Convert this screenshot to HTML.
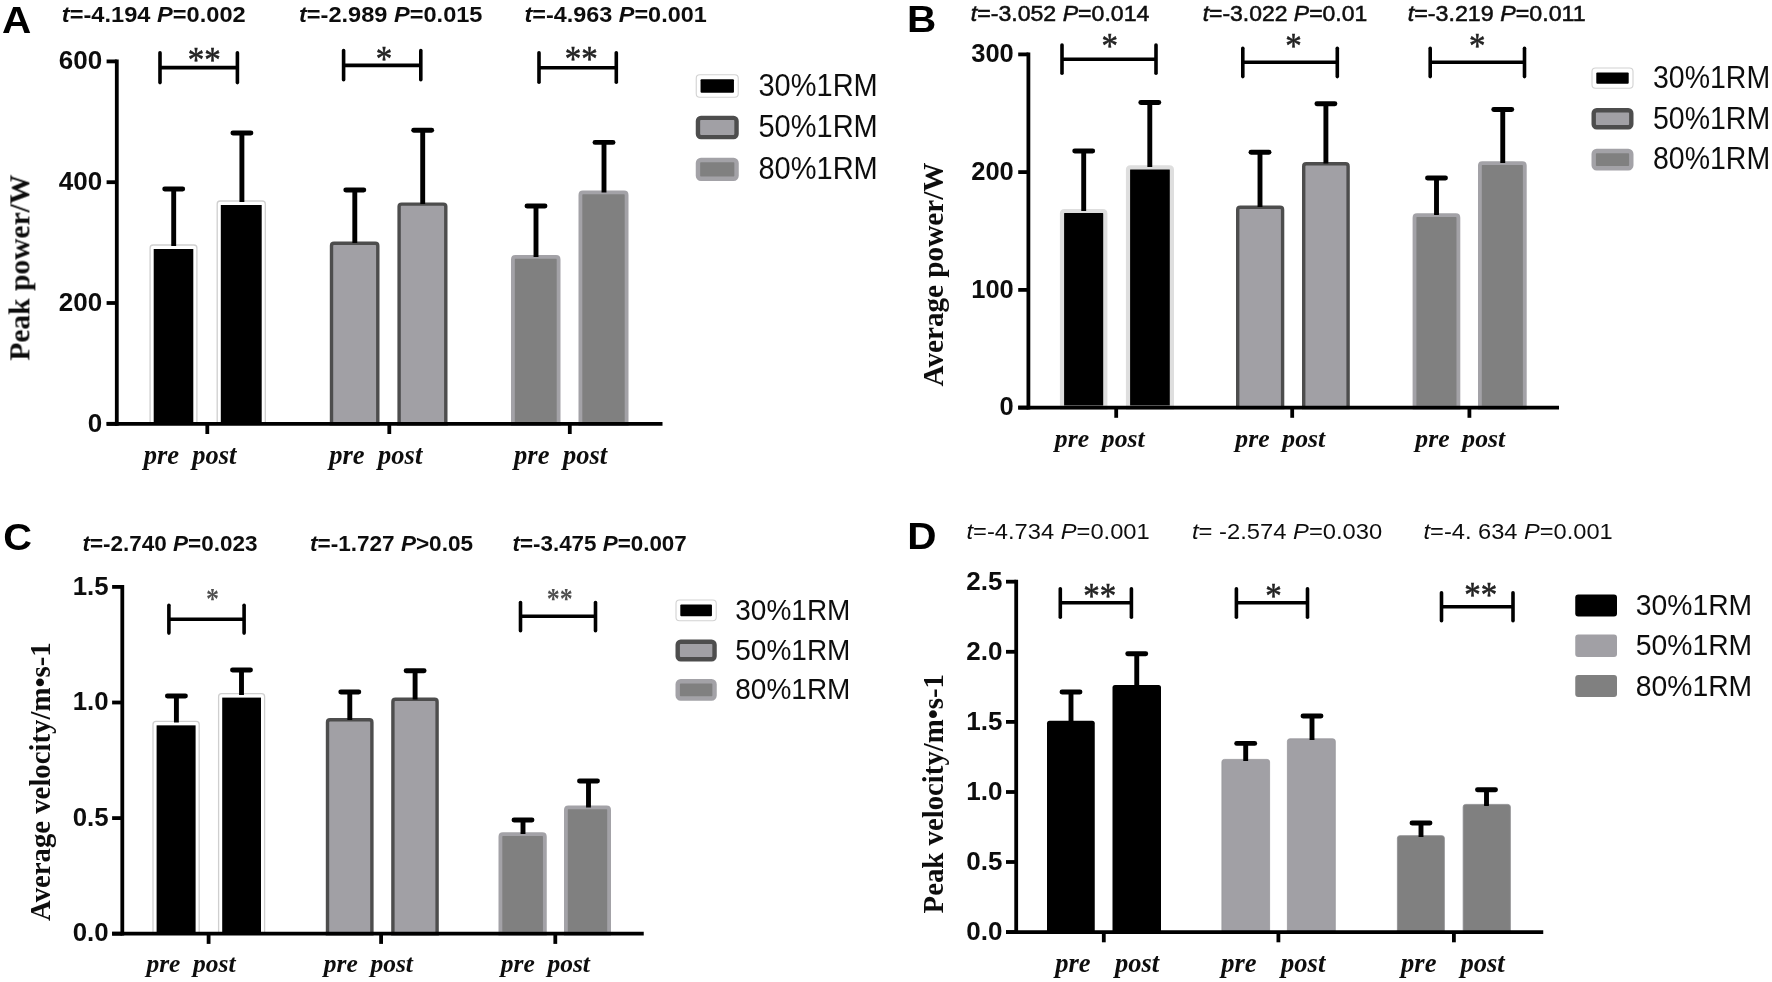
<!DOCTYPE html>
<html lang="en"><head><meta charset="utf-8"><title>Power and velocity pre/post at 30%, 50% and 80% 1RM</title>
<style>html,body{margin:0;padding:0;background:#fff;}body{width:1772px;height:982px;overflow:hidden;}svg{display:block;}</style>
</head><body>
<svg width="1772" height="982" viewBox="0 0 1772 982" role="img" aria-label="Bar charts of peak power, average power, average velocity and peak velocity before and after training">
<defs><filter id="soft" filterUnits="userSpaceOnUse" x="0" y="0" width="1772" height="982"><feGaussianBlur stdDeviation="0.65"/></filter></defs>
<rect x="0" y="0" width="1772" height="982" fill="#fff"/>
<g filter="url(#soft)">
<g id="panelA">
<text x="1.99" y="32.6" font-family='"Liberation Sans", sans-serif' font-size="37.2" font-weight="bold" font-style="normal" text-anchor="start" fill="#000" textLength="29.28" lengthAdjust="spacingAndGlyphs" >A</text>
<text x="61.8" y="22" font-family='"Liberation Sans", sans-serif' font-size="22.5" font-weight="bold" font-style="normal" text-anchor="start" fill="#111" textLength="183.9" lengthAdjust="spacingAndGlyphs" ><tspan font-style="italic">t</tspan>=-4.194 <tspan font-style="italic">P</tspan>=0.002</text>
<text x="299" y="22" font-family='"Liberation Sans", sans-serif' font-size="22.5" font-weight="bold" font-style="normal" text-anchor="start" fill="#111" textLength="183.5" lengthAdjust="spacingAndGlyphs" ><tspan font-style="italic">t</tspan>=-2.989 <tspan font-style="italic">P</tspan>=0.015</text>
<text x="524.5" y="22" font-family='"Liberation Sans", sans-serif' font-size="22.5" font-weight="bold" font-style="normal" text-anchor="start" fill="#111" textLength="182.2" lengthAdjust="spacingAndGlyphs" ><tspan font-style="italic">t</tspan>=-4.963 <tspan font-style="italic">P</tspan>=0.001</text>
<g transform="translate(29.4 360.6) rotate(-90)">
<text x="0" y="0" font-family='"Liberation Serif", serif' font-size="29.3" font-weight="bold" font-style="normal" text-anchor="start" fill="#111" textLength="186" lengthAdjust="spacingAndGlyphs" >Peak power/W</text>
</g>
<path d="M150.1 423.8 L150.1 248 Q150.1 245 153.1 245 L193.9 245 Q196.9 245 196.9 248 L196.9 423.8Z" fill="#fff" stroke="#cfcfcf" stroke-width="1.3"/>
<rect x="153.7" y="249" width="39.6" height="174.8" fill="#000"/>
<path d="M217.2 423.8 L217.2 204 Q217.2 201 220.2 201 L262.3 201 Q265.3 201 265.3 204 L265.3 423.8Z" fill="#fff" stroke="#cfcfcf" stroke-width="1.3"/>
<rect x="220.8" y="205" width="40.9" height="218.8" fill="#000"/>
<path d="M331.5 423.8 L331.5 245.7 Q331.5 243.2 334 243.2 L375.3 243.2 Q377.8 243.2 377.8 245.7 L377.8 423.8Z" fill="#a1a0a5" stroke="#4d4d4d" stroke-width="3.4"/>
<path d="M399.1 423.8 L399.1 206.6 Q399.1 204.1 401.6 204.1 L443.3 204.1 Q445.8 204.1 445.8 206.6 L445.8 423.8Z" fill="#a1a0a5" stroke="#4d4d4d" stroke-width="3.4"/>
<path d="M512.9 423.8 L512.9 259.4 Q512.9 256.9 515.4 256.9 L556.1 256.9 Q558.6 256.9 558.6 259.4 L558.6 423.8Z" fill="#808080" stroke="#a3a2a7" stroke-width="3.8"/>
<path d="M580.4 423.8 L580.4 194.9 Q580.4 192.4 582.9 192.4 L624.1 192.4 Q626.6 192.4 626.6 194.9 L626.6 423.8Z" fill="#808080" stroke="#a3a2a7" stroke-width="3.8"/>
<line x1="173.7" y1="189" x2="173.7" y2="246" stroke="#000" stroke-width="4.9" stroke-linecap="butt"/>
<line x1="164.7" y1="189" x2="182.7" y2="189" stroke="#000" stroke-width="4.9" stroke-linecap="round"/>
<line x1="241.9" y1="133" x2="241.9" y2="202" stroke="#000" stroke-width="4.9" stroke-linecap="butt"/>
<line x1="232.9" y1="133" x2="250.9" y2="133" stroke="#000" stroke-width="4.9" stroke-linecap="round"/>
<line x1="354.8" y1="190" x2="354.8" y2="243" stroke="#000" stroke-width="4.9" stroke-linecap="butt"/>
<line x1="345.8" y1="190" x2="363.8" y2="190" stroke="#000" stroke-width="4.9" stroke-linecap="round"/>
<line x1="422.7" y1="130.2" x2="422.7" y2="204" stroke="#000" stroke-width="4.9" stroke-linecap="butt"/>
<line x1="413.7" y1="130.2" x2="431.7" y2="130.2" stroke="#000" stroke-width="4.9" stroke-linecap="round"/>
<line x1="536" y1="206" x2="536" y2="257" stroke="#000" stroke-width="4.9" stroke-linecap="butt"/>
<line x1="527" y1="206" x2="545" y2="206" stroke="#000" stroke-width="4.9" stroke-linecap="round"/>
<line x1="604" y1="142.4" x2="604" y2="192.5" stroke="#000" stroke-width="4.9" stroke-linecap="butt"/>
<line x1="595" y1="142.4" x2="613" y2="142.4" stroke="#000" stroke-width="4.9" stroke-linecap="round"/>
<line x1="116.8" y1="59.5" x2="116.8" y2="425.7" stroke="#000" stroke-width="3.8" stroke-linecap="butt"/>
<line x1="106.6" y1="423.8" x2="662.5" y2="423.8" stroke="#000" stroke-width="3.8" stroke-linecap="butt"/>
<line x1="106.6" y1="61.4" x2="116.8" y2="61.4" stroke="#000" stroke-width="3.8" stroke-linecap="butt"/>
<text x="102.2" y="69.24" font-family='"Liberation Sans", sans-serif' font-size="26" font-weight="bold" font-style="normal" text-anchor="end" fill="#111" >600</text>
<line x1="106.6" y1="182.2" x2="116.8" y2="182.2" stroke="#000" stroke-width="3.8" stroke-linecap="butt"/>
<text x="102.2" y="190.04" font-family='"Liberation Sans", sans-serif' font-size="26" font-weight="bold" font-style="normal" text-anchor="end" fill="#111" >400</text>
<line x1="106.6" y1="303" x2="116.8" y2="303" stroke="#000" stroke-width="3.8" stroke-linecap="butt"/>
<text x="102.2" y="310.84" font-family='"Liberation Sans", sans-serif' font-size="26" font-weight="bold" font-style="normal" text-anchor="end" fill="#111" >200</text>
<line x1="106.6" y1="423.8" x2="116.8" y2="423.8" stroke="#000" stroke-width="3.8" stroke-linecap="butt"/>
<text x="102.2" y="431.64" font-family='"Liberation Sans", sans-serif' font-size="26" font-weight="bold" font-style="normal" text-anchor="end" fill="#111" >0</text>
<line x1="207.3" y1="423.8" x2="207.3" y2="434" stroke="#000" stroke-width="3.8" stroke-linecap="butt"/>
<line x1="389.3" y1="423.8" x2="389.3" y2="434" stroke="#000" stroke-width="3.8" stroke-linecap="butt"/>
<line x1="569.8" y1="423.8" x2="569.8" y2="434" stroke="#000" stroke-width="3.8" stroke-linecap="butt"/>
<line x1="160" y1="67.6" x2="237.4" y2="67.6" stroke="#000" stroke-width="3.6" stroke-linecap="butt"/>
<line x1="160" y1="52.8" x2="160" y2="82.6" stroke="#000" stroke-width="3.6" stroke-linecap="round"/>
<line x1="237.4" y1="52.8" x2="237.4" y2="82.6" stroke="#000" stroke-width="3.6" stroke-linecap="round"/>
<g transform="translate(204.2 61.5) scale(1 1.08)">
<text x="0" y="9.5" font-family='"Liberation Serif", serif' font-size="33" font-weight="normal" font-style="normal" text-anchor="middle" fill="#222" stroke="#222" stroke-width="0.5">**</text>
</g>
<line x1="343.6" y1="65.4" x2="420.8" y2="65.4" stroke="#000" stroke-width="3.6" stroke-linecap="butt"/>
<line x1="343.6" y1="50.6" x2="343.6" y2="79.8" stroke="#000" stroke-width="3.6" stroke-linecap="round"/>
<line x1="420.8" y1="50.6" x2="420.8" y2="79.8" stroke="#000" stroke-width="3.6" stroke-linecap="round"/>
<g transform="translate(384 61.2) scale(1 1.08)">
<text x="0" y="9.5" font-family='"Liberation Serif", serif' font-size="33" font-weight="normal" font-style="normal" text-anchor="middle" fill="#222" stroke="#222" stroke-width="0.5">*</text>
</g>
<line x1="539" y1="67.8" x2="616.3" y2="67.8" stroke="#000" stroke-width="3.6" stroke-linecap="butt"/>
<line x1="539" y1="52.8" x2="539" y2="82.2" stroke="#000" stroke-width="3.6" stroke-linecap="round"/>
<line x1="616.3" y1="52.8" x2="616.3" y2="82.2" stroke="#000" stroke-width="3.6" stroke-linecap="round"/>
<g transform="translate(581.2 61.2) scale(1 1.08)">
<text x="0" y="9.5" font-family='"Liberation Serif", serif' font-size="33" font-weight="normal" font-style="normal" text-anchor="middle" fill="#222" stroke="#222" stroke-width="0.5">**</text>
</g>
<text x="143.7" y="464.4" font-family='"Liberation Serif", serif' font-size="26.5" font-weight="bold" font-style="italic" text-anchor="start" fill="#111" >pre</text>
<text x="192.3" y="464.4" font-family='"Liberation Serif", serif' font-size="26.5" font-weight="bold" font-style="italic" text-anchor="start" fill="#111" >post</text>
<text x="329.2" y="464.4" font-family='"Liberation Serif", serif' font-size="26.5" font-weight="bold" font-style="italic" text-anchor="start" fill="#111" >pre</text>
<text x="378.1" y="464.4" font-family='"Liberation Serif", serif' font-size="26.5" font-weight="bold" font-style="italic" text-anchor="start" fill="#111" >post</text>
<text x="514.1" y="464.4" font-family='"Liberation Serif", serif' font-size="26.5" font-weight="bold" font-style="italic" text-anchor="start" fill="#111" >pre</text>
<text x="562.9" y="464.4" font-family='"Liberation Serif", serif' font-size="26.5" font-weight="bold" font-style="italic" text-anchor="start" fill="#111" >post</text>
<rect x="696.25" y="74.7" width="42" height="22.5" fill="#fff" stroke="#d2d2d2" stroke-width="1.1" rx="3.5" ry="3.5"/>
<rect x="700.55" y="79.2" width="33.4" height="13.5" fill="#000" rx="1" ry="1"/>
<g transform="translate(758.5 95.92) scale(1 1.07)">
<text x="0" y="0" font-family='"Liberation Sans", sans-serif' font-size="29" font-weight="normal" font-style="normal" text-anchor="start" fill="#111" >30%1RM</text>
</g>
<rect x="697.95" y="117.9" width="38.6" height="19.2" fill="#a1a0a5" stroke="#4d4d4d" stroke-width="4.4" rx="3" ry="3"/>
<g transform="translate(758.5 137.47) scale(1 1.07)">
<text x="0" y="0" font-family='"Liberation Sans", sans-serif' font-size="29" font-weight="normal" font-style="normal" text-anchor="start" fill="#111" >50%1RM</text>
</g>
<rect x="697.95" y="160" width="38.6" height="18.8" fill="#808080" stroke="#a3a2a7" stroke-width="4.4" rx="3" ry="3"/>
<g transform="translate(758.5 179.37) scale(1 1.07)">
<text x="0" y="0" font-family='"Liberation Sans", sans-serif' font-size="29" font-weight="normal" font-style="normal" text-anchor="start" fill="#111" >80%1RM</text>
</g>
</g>
<g id="panelB">
<text x="907.08" y="32.2" font-family='"Liberation Sans", sans-serif' font-size="37.2" font-weight="bold" font-style="normal" text-anchor="start" fill="#000" textLength="29.28" lengthAdjust="spacingAndGlyphs" >B</text>
<text x="970.8" y="20.6" font-family='"Liberation Sans", sans-serif' font-size="22.5" font-weight="normal" font-style="normal" text-anchor="start" fill="#111" textLength="178.6" lengthAdjust="spacingAndGlyphs" stroke="#111" stroke-width="0.55"><tspan font-style="italic">t</tspan>=-3.052 <tspan font-style="italic">P</tspan>=0.014</text>
<text x="1202.7" y="20.6" font-family='"Liberation Sans", sans-serif' font-size="22.5" font-weight="normal" font-style="normal" text-anchor="start" fill="#111" textLength="164.5" lengthAdjust="spacingAndGlyphs" stroke="#111" stroke-width="0.55"><tspan font-style="italic">t</tspan>=-3.022 <tspan font-style="italic">P</tspan>=0.01</text>
<text x="1407.8" y="20.6" font-family='"Liberation Sans", sans-serif' font-size="22.5" font-weight="normal" font-style="normal" text-anchor="start" fill="#111" textLength="177.9" lengthAdjust="spacingAndGlyphs" stroke="#111" stroke-width="0.55"><tspan font-style="italic">t</tspan>=-3.219 <tspan font-style="italic">P</tspan>=0.011</text>
<g transform="translate(943 386.5) rotate(-90)">
<text x="0" y="0" font-family='"Liberation Serif", serif' font-size="29.3" font-weight="bold" font-style="normal" text-anchor="start" fill="#111" textLength="224" lengthAdjust="spacingAndGlyphs" >Average power/W</text>
</g>
<path d="M1062 407.6 L1062 213.5 Q1062 211 1064.5 211 L1102.8 211 Q1105.3 211 1105.3 213.5 L1105.3 407.6Z" fill="#000" stroke="#dedede" stroke-width="4.2"/>
<path d="M1128 407.6 L1128 169.8 Q1128 167.3 1130.5 167.3 L1169.4 167.3 Q1171.9 167.3 1171.9 169.8 L1171.9 407.6Z" fill="#000" stroke="#dedede" stroke-width="4.2"/>
<path d="M1237.7 407.6 L1237.7 209.7 Q1237.7 207.2 1240.2 207.2 L1280.1 207.2 Q1282.6 207.2 1282.6 209.7 L1282.6 407.6Z" fill="#a1a0a5" stroke="#4d4d4d" stroke-width="3.4"/>
<path d="M1303.7 407.6 L1303.7 166.2 Q1303.7 163.7 1306.2 163.7 L1345.6 163.7 Q1348.1 163.7 1348.1 166.2 L1348.1 407.6Z" fill="#a1a0a5" stroke="#4d4d4d" stroke-width="3.4"/>
<path d="M1414.5 407.6 L1414.5 217.7 Q1414.5 215.2 1417 215.2 L1455.9 215.2 Q1458.4 215.2 1458.4 217.7 L1458.4 407.6Z" fill="#808080" stroke="#a3a2a7" stroke-width="3.8"/>
<path d="M1479.9 407.6 L1479.9 165.6 Q1479.9 163.1 1482.4 163.1 L1522.3 163.1 Q1524.8 163.1 1524.8 165.6 L1524.8 407.6Z" fill="#808080" stroke="#a3a2a7" stroke-width="3.8"/>
<line x1="1083.7" y1="151" x2="1083.7" y2="211" stroke="#000" stroke-width="4.9" stroke-linecap="butt"/>
<line x1="1074.7" y1="151" x2="1092.7" y2="151" stroke="#000" stroke-width="4.9" stroke-linecap="round"/>
<line x1="1149.8" y1="102.5" x2="1149.8" y2="167" stroke="#000" stroke-width="4.9" stroke-linecap="butt"/>
<line x1="1140.8" y1="102.5" x2="1158.8" y2="102.5" stroke="#000" stroke-width="4.9" stroke-linecap="round"/>
<line x1="1260" y1="152.2" x2="1260" y2="207" stroke="#000" stroke-width="4.9" stroke-linecap="butt"/>
<line x1="1251" y1="152.2" x2="1269" y2="152.2" stroke="#000" stroke-width="4.9" stroke-linecap="round"/>
<line x1="1325.9" y1="103.8" x2="1325.9" y2="163.5" stroke="#000" stroke-width="4.9" stroke-linecap="butt"/>
<line x1="1316.9" y1="103.8" x2="1334.9" y2="103.8" stroke="#000" stroke-width="4.9" stroke-linecap="round"/>
<line x1="1436.5" y1="178" x2="1436.5" y2="215" stroke="#000" stroke-width="4.9" stroke-linecap="butt"/>
<line x1="1427.5" y1="178" x2="1445.5" y2="178" stroke="#000" stroke-width="4.9" stroke-linecap="round"/>
<line x1="1502.75" y1="109.5" x2="1502.75" y2="163" stroke="#000" stroke-width="4.9" stroke-linecap="butt"/>
<line x1="1493.75" y1="109.5" x2="1511.75" y2="109.5" stroke="#000" stroke-width="4.9" stroke-linecap="round"/>
<line x1="1028.4" y1="52.5" x2="1028.4" y2="409.5" stroke="#000" stroke-width="3.8" stroke-linecap="butt"/>
<line x1="1018.2" y1="407.6" x2="1559" y2="407.6" stroke="#000" stroke-width="3.8" stroke-linecap="butt"/>
<line x1="1018.2" y1="54.4" x2="1028.4" y2="54.4" stroke="#000" stroke-width="3.8" stroke-linecap="butt"/>
<text x="1013.8" y="62.07" font-family='"Liberation Sans", sans-serif' font-size="25.5" font-weight="bold" font-style="normal" text-anchor="end" fill="#111" >300</text>
<line x1="1018.2" y1="172.1" x2="1028.4" y2="172.1" stroke="#000" stroke-width="3.8" stroke-linecap="butt"/>
<text x="1013.8" y="179.77" font-family='"Liberation Sans", sans-serif' font-size="25.5" font-weight="bold" font-style="normal" text-anchor="end" fill="#111" >200</text>
<line x1="1018.2" y1="289.9" x2="1028.4" y2="289.9" stroke="#000" stroke-width="3.8" stroke-linecap="butt"/>
<text x="1013.8" y="297.57" font-family='"Liberation Sans", sans-serif' font-size="25.5" font-weight="bold" font-style="normal" text-anchor="end" fill="#111" >100</text>
<line x1="1018.2" y1="407.6" x2="1028.4" y2="407.6" stroke="#000" stroke-width="3.8" stroke-linecap="butt"/>
<text x="1013.8" y="415.27" font-family='"Liberation Sans", sans-serif' font-size="25.5" font-weight="bold" font-style="normal" text-anchor="end" fill="#111" >0</text>
<line x1="1116.2" y1="407.6" x2="1116.2" y2="417.8" stroke="#000" stroke-width="3.8" stroke-linecap="butt"/>
<line x1="1292.2" y1="407.6" x2="1292.2" y2="417.8" stroke="#000" stroke-width="3.8" stroke-linecap="butt"/>
<line x1="1469.4" y1="407.6" x2="1469.4" y2="417.8" stroke="#000" stroke-width="3.8" stroke-linecap="butt"/>
<line x1="1062" y1="59.2" x2="1156" y2="59.2" stroke="#000" stroke-width="3.6" stroke-linecap="butt"/>
<line x1="1062" y1="45" x2="1062" y2="73.2" stroke="#000" stroke-width="3.6" stroke-linecap="round"/>
<line x1="1156" y1="45" x2="1156" y2="73.2" stroke="#000" stroke-width="3.6" stroke-linecap="round"/>
<g transform="translate(1109.8 47.3) scale(1 1.08)">
<text x="0" y="9.5" font-family='"Liberation Serif", serif' font-size="33" font-weight="normal" font-style="normal" text-anchor="middle" fill="#222" stroke="#222" stroke-width="0.5">*</text>
</g>
<line x1="1242.8" y1="62.2" x2="1337.3" y2="62.2" stroke="#000" stroke-width="3.6" stroke-linecap="butt"/>
<line x1="1242.8" y1="48.2" x2="1242.8" y2="76.6" stroke="#000" stroke-width="3.6" stroke-linecap="round"/>
<line x1="1337.3" y1="48.2" x2="1337.3" y2="76.6" stroke="#000" stroke-width="3.6" stroke-linecap="round"/>
<g transform="translate(1293.4 47.3) scale(1 1.08)">
<text x="0" y="9.5" font-family='"Liberation Serif", serif' font-size="33" font-weight="normal" font-style="normal" text-anchor="middle" fill="#222" stroke="#222" stroke-width="0.5">*</text>
</g>
<line x1="1430.2" y1="62.2" x2="1524.5" y2="62.2" stroke="#000" stroke-width="3.6" stroke-linecap="butt"/>
<line x1="1430.2" y1="48.2" x2="1430.2" y2="76.6" stroke="#000" stroke-width="3.6" stroke-linecap="round"/>
<line x1="1524.5" y1="48.2" x2="1524.5" y2="76.6" stroke="#000" stroke-width="3.6" stroke-linecap="round"/>
<g transform="translate(1477.2 47.3) scale(1 1.08)">
<text x="0" y="9.5" font-family='"Liberation Serif", serif' font-size="33" font-weight="normal" font-style="normal" text-anchor="middle" fill="#222" stroke="#222" stroke-width="0.5">*</text>
</g>
<text x="1054.8" y="447.1" font-family='"Liberation Serif", serif' font-size="25.7" font-weight="bold" font-style="italic" text-anchor="start" fill="#111" >pre</text>
<text x="1101.8" y="447.1" font-family='"Liberation Serif", serif' font-size="25.7" font-weight="bold" font-style="italic" text-anchor="start" fill="#111" >post</text>
<text x="1235.3" y="447.1" font-family='"Liberation Serif", serif' font-size="25.7" font-weight="bold" font-style="italic" text-anchor="start" fill="#111" >pre</text>
<text x="1282.3" y="447.1" font-family='"Liberation Serif", serif' font-size="25.7" font-weight="bold" font-style="italic" text-anchor="start" fill="#111" >post</text>
<text x="1415.3" y="447.1" font-family='"Liberation Serif", serif' font-size="25.7" font-weight="bold" font-style="italic" text-anchor="start" fill="#111" >pre</text>
<text x="1462.3" y="447.1" font-family='"Liberation Serif", serif' font-size="25.7" font-weight="bold" font-style="italic" text-anchor="start" fill="#111" >post</text>
<rect x="1592" y="68" width="41" height="20.25" fill="#fff" stroke="#d2d2d2" stroke-width="1.1" rx="3.5" ry="3.5"/>
<rect x="1596.3" y="72.5" width="32.4" height="11.25" fill="#000" rx="1" ry="1"/>
<g transform="translate(1653 87.92) scale(1 1.07)">
<text x="0" y="0" font-family='"Liberation Sans", sans-serif' font-size="28.5" font-weight="normal" font-style="normal" text-anchor="start" fill="#111" >30%1RM</text>
</g>
<rect x="1593.7" y="110.2" width="37.6" height="17.1" fill="#a1a0a5" stroke="#4d4d4d" stroke-width="4.4" rx="3" ry="3"/>
<g transform="translate(1653 128.54) scale(1 1.07)">
<text x="0" y="0" font-family='"Liberation Sans", sans-serif' font-size="28.5" font-weight="normal" font-style="normal" text-anchor="start" fill="#111" >50%1RM</text>
</g>
<rect x="1593.7" y="150.95" width="37.6" height="17.35" fill="#808080" stroke="#a3a2a7" stroke-width="4.4" rx="3" ry="3"/>
<g transform="translate(1653 169.42) scale(1 1.07)">
<text x="0" y="0" font-family='"Liberation Sans", sans-serif' font-size="28.5" font-weight="normal" font-style="normal" text-anchor="start" fill="#111" >80%1RM</text>
</g>
</g>
<g id="panelC">
<text x="3.37" y="549.7" font-family='"Liberation Sans", sans-serif' font-size="36.5" font-weight="bold" font-style="normal" text-anchor="start" fill="#000" textLength="28.72" lengthAdjust="spacingAndGlyphs" >C</text>
<text x="82.5" y="551" font-family='"Liberation Sans", sans-serif' font-size="22.5" font-weight="bold" font-style="normal" text-anchor="start" fill="#111" textLength="175" lengthAdjust="spacingAndGlyphs" ><tspan font-style="italic">t</tspan>=-2.740 <tspan font-style="italic">P</tspan>=0.023</text>
<text x="310" y="551" font-family='"Liberation Sans", sans-serif' font-size="22.5" font-weight="bold" font-style="normal" text-anchor="start" fill="#111" textLength="163" lengthAdjust="spacingAndGlyphs" ><tspan font-style="italic">t</tspan>=-1.727 <tspan font-style="italic">P</tspan>&gt;0.05</text>
<text x="512.5" y="551" font-family='"Liberation Sans", sans-serif' font-size="22.5" font-weight="bold" font-style="normal" text-anchor="start" fill="#111" textLength="174.25" lengthAdjust="spacingAndGlyphs" ><tspan font-style="italic">t</tspan>=-3.475 <tspan font-style="italic">P</tspan>=0.007</text>
<g transform="translate(49.6 921) rotate(-90)">
<text x="0" y="0" font-family='"Liberation Serif", serif' font-size="29.3" font-weight="bold" font-style="normal" text-anchor="start" fill="#111" textLength="278.6" lengthAdjust="spacingAndGlyphs" >Average velocity/m•s-1</text>
</g>
<path d="M153 933.7 L153 724.35 Q153 721.35 156 721.35 L196.2 721.35 Q199.2 721.35 199.2 724.35 L199.2 933.7Z" fill="#fff" stroke="#cfcfcf" stroke-width="1.3"/>
<rect x="156.6" y="725.35" width="39" height="208.35" fill="#000"/>
<path d="M218.6 933.7 L218.6 696.6 Q218.6 693.6 221.6 693.6 L261.6 693.6 Q264.6 693.6 264.6 696.6 L264.6 933.7Z" fill="#fff" stroke="#cfcfcf" stroke-width="1.3"/>
<rect x="222.2" y="697.6" width="38.8" height="236.1" fill="#000"/>
<path d="M327.5 933.7 L327.5 722.2 Q327.5 719.7 330 719.7 L369.4 719.7 Q371.9 719.7 371.9 722.2 L371.9 933.7Z" fill="#a1a0a5" stroke="#4d4d4d" stroke-width="3.4"/>
<path d="M392.9 933.7 L392.9 701.7 Q392.9 699.2 395.4 699.2 L434.6 699.2 Q437.1 699.2 437.1 701.7 L437.1 933.7Z" fill="#a1a0a5" stroke="#4d4d4d" stroke-width="3.4"/>
<path d="M500.4 933.7 L500.4 836.65 Q500.4 834.15 502.9 834.15 L542.35 834.15 Q544.85 834.15 544.85 836.65 L544.85 933.7Z" fill="#808080" stroke="#a3a2a7" stroke-width="3.8"/>
<path d="M565.9 933.7 L565.9 809.9 Q565.9 807.4 568.4 807.4 L606.6 807.4 Q609.1 807.4 609.1 809.9 L609.1 933.7Z" fill="#808080" stroke="#a3a2a7" stroke-width="3.8"/>
<line x1="176.4" y1="696" x2="176.4" y2="722.5" stroke="#000" stroke-width="4.9" stroke-linecap="butt"/>
<line x1="167.4" y1="696" x2="185.4" y2="696" stroke="#000" stroke-width="4.9" stroke-linecap="round"/>
<line x1="241.5" y1="670" x2="241.5" y2="695" stroke="#000" stroke-width="4.9" stroke-linecap="butt"/>
<line x1="232.5" y1="670" x2="250.5" y2="670" stroke="#000" stroke-width="4.9" stroke-linecap="round"/>
<line x1="349.8" y1="692" x2="349.8" y2="720" stroke="#000" stroke-width="4.9" stroke-linecap="butt"/>
<line x1="340.8" y1="692" x2="358.8" y2="692" stroke="#000" stroke-width="4.9" stroke-linecap="round"/>
<line x1="415.1" y1="670.75" x2="415.1" y2="699.5" stroke="#000" stroke-width="4.9" stroke-linecap="butt"/>
<line x1="406.1" y1="670.75" x2="424.1" y2="670.75" stroke="#000" stroke-width="4.9" stroke-linecap="round"/>
<line x1="523" y1="820" x2="523" y2="834" stroke="#000" stroke-width="4.9" stroke-linecap="butt"/>
<line x1="514" y1="820" x2="532" y2="820" stroke="#000" stroke-width="4.9" stroke-linecap="round"/>
<line x1="588.5" y1="781" x2="588.5" y2="807.5" stroke="#000" stroke-width="4.9" stroke-linecap="butt"/>
<line x1="579.5" y1="781" x2="597.5" y2="781" stroke="#000" stroke-width="4.9" stroke-linecap="round"/>
<line x1="122.3" y1="585" x2="122.3" y2="935.6" stroke="#000" stroke-width="3.8" stroke-linecap="butt"/>
<line x1="112.1" y1="933.7" x2="643.75" y2="933.7" stroke="#000" stroke-width="3.8" stroke-linecap="butt"/>
<line x1="112.1" y1="586.9" x2="122.3" y2="586.9" stroke="#000" stroke-width="3.8" stroke-linecap="butt"/>
<text x="108.6" y="594.68" font-family='"Liberation Sans", sans-serif' font-size="25.8" font-weight="bold" font-style="normal" text-anchor="end" fill="#111" >1.5</text>
<line x1="112.1" y1="702.5" x2="122.3" y2="702.5" stroke="#000" stroke-width="3.8" stroke-linecap="butt"/>
<text x="108.6" y="710.28" font-family='"Liberation Sans", sans-serif' font-size="25.8" font-weight="bold" font-style="normal" text-anchor="end" fill="#111" >1.0</text>
<line x1="112.1" y1="818.1" x2="122.3" y2="818.1" stroke="#000" stroke-width="3.8" stroke-linecap="butt"/>
<text x="108.6" y="825.88" font-family='"Liberation Sans", sans-serif' font-size="25.8" font-weight="bold" font-style="normal" text-anchor="end" fill="#111" >0.5</text>
<line x1="112.1" y1="933.7" x2="122.3" y2="933.7" stroke="#000" stroke-width="3.8" stroke-linecap="butt"/>
<text x="108.6" y="941.48" font-family='"Liberation Sans", sans-serif' font-size="25.8" font-weight="bold" font-style="normal" text-anchor="end" fill="#111" >0.0</text>
<line x1="208.6" y1="933.7" x2="208.6" y2="943.9" stroke="#000" stroke-width="3.8" stroke-linecap="butt"/>
<line x1="381.1" y1="933.7" x2="381.1" y2="943.9" stroke="#000" stroke-width="3.8" stroke-linecap="butt"/>
<line x1="555.3" y1="933.7" x2="555.3" y2="943.9" stroke="#000" stroke-width="3.8" stroke-linecap="butt"/>
<line x1="168.9" y1="619.2" x2="244.1" y2="619.2" stroke="#000" stroke-width="3.6" stroke-linecap="butt"/>
<line x1="168.9" y1="605.3" x2="168.9" y2="633.1" stroke="#000" stroke-width="3.6" stroke-linecap="round"/>
<line x1="244.1" y1="605.3" x2="244.1" y2="633.1" stroke="#000" stroke-width="3.6" stroke-linecap="round"/>
<g transform="translate(212.4 599.8) scale(1 1.1)">
<text x="0" y="7.49" font-family='"Liberation Serif", serif' font-size="26" font-weight="bold" font-style="normal" text-anchor="middle" fill="#505050" >*</text>
</g>
<line x1="520.5" y1="616.2" x2="595.5" y2="616.2" stroke="#000" stroke-width="3.6" stroke-linecap="butt"/>
<line x1="520.5" y1="602.5" x2="520.5" y2="630.7" stroke="#000" stroke-width="3.6" stroke-linecap="round"/>
<line x1="595.5" y1="602.5" x2="595.5" y2="630.7" stroke="#000" stroke-width="3.6" stroke-linecap="round"/>
<g transform="translate(559.75 599.5) scale(1 1.1)">
<text x="0" y="7.49" font-family='"Liberation Serif", serif' font-size="26" font-weight="bold" font-style="normal" text-anchor="middle" fill="#505050" >**</text>
</g>
<text x="146.4" y="972.4" font-family='"Liberation Serif", serif' font-size="25.5" font-weight="bold" font-style="italic" text-anchor="start" fill="#111" >pre</text>
<text x="193" y="972.4" font-family='"Liberation Serif", serif' font-size="25.5" font-weight="bold" font-style="italic" text-anchor="start" fill="#111" >post</text>
<text x="323.8" y="972.4" font-family='"Liberation Serif", serif' font-size="25.5" font-weight="bold" font-style="italic" text-anchor="start" fill="#111" >pre</text>
<text x="370.4" y="972.4" font-family='"Liberation Serif", serif' font-size="25.5" font-weight="bold" font-style="italic" text-anchor="start" fill="#111" >post</text>
<text x="500.8" y="972.4" font-family='"Liberation Serif", serif' font-size="25.5" font-weight="bold" font-style="italic" text-anchor="start" fill="#111" >pre</text>
<text x="547.4" y="972.4" font-family='"Liberation Serif", serif' font-size="25.5" font-weight="bold" font-style="italic" text-anchor="start" fill="#111" >post</text>
<rect x="676" y="600" width="40.25" height="20.75" fill="#fff" stroke="#d2d2d2" stroke-width="1.1" rx="3.5" ry="3.5"/>
<rect x="680.3" y="604.5" width="31.65" height="11.75" fill="#000" rx="1" ry="1"/>
<g transform="translate(735.3 619.98) scale(1 1.07)">
<text x="0" y="0" font-family='"Liberation Sans", sans-serif' font-size="28" font-weight="normal" font-style="normal" text-anchor="start" fill="#111" >30%1RM</text>
</g>
<rect x="677.7" y="641.7" width="36.85" height="17.6" fill="#a1a0a5" stroke="#4d4d4d" stroke-width="4.4" rx="3" ry="3"/>
<g transform="translate(735.3 660.11) scale(1 1.07)">
<text x="0" y="0" font-family='"Liberation Sans", sans-serif' font-size="28" font-weight="normal" font-style="normal" text-anchor="start" fill="#111" >50%1RM</text>
</g>
<rect x="677.7" y="681.2" width="36.85" height="17.35" fill="#808080" stroke="#a3a2a7" stroke-width="4.4" rx="3" ry="3"/>
<g transform="translate(735.3 699.48) scale(1 1.07)">
<text x="0" y="0" font-family='"Liberation Sans", sans-serif' font-size="28" font-weight="normal" font-style="normal" text-anchor="start" fill="#111" >80%1RM</text>
</g>
</g>
<g id="panelD">
<text x="907.28" y="549.2" font-family='"Liberation Sans", sans-serif' font-size="37.2" font-weight="bold" font-style="normal" text-anchor="start" fill="#000" textLength="29.28" lengthAdjust="spacingAndGlyphs" >D</text>
<text x="966.5" y="539" font-family='"Liberation Sans", sans-serif' font-size="22.5" font-weight="normal" font-style="normal" text-anchor="start" fill="#111" textLength="183.25" lengthAdjust="spacingAndGlyphs" ><tspan font-style="italic">t</tspan>=-4.734 <tspan font-style="italic">P</tspan>=0.001</text>
<text x="1192" y="539" font-family='"Liberation Sans", sans-serif' font-size="22.5" font-weight="normal" font-style="normal" text-anchor="start" fill="#111" textLength="190.25" lengthAdjust="spacingAndGlyphs" ><tspan font-style="italic">t</tspan>= -2.574 <tspan font-style="italic">P</tspan>=0.030</text>
<text x="1423.5" y="539" font-family='"Liberation Sans", sans-serif' font-size="22.5" font-weight="normal" font-style="normal" text-anchor="start" fill="#111" textLength="189.25" lengthAdjust="spacingAndGlyphs" ><tspan font-style="italic">t</tspan>=-4. 634 <tspan font-style="italic">P</tspan>=0.001</text>
<g transform="translate(942.6 913.4) rotate(-90)">
<text x="0" y="0" font-family='"Liberation Serif", serif' font-size="29.3" font-weight="bold" font-style="normal" text-anchor="start" fill="#111" textLength="239.4" lengthAdjust="spacingAndGlyphs" >Peak velocity/m•s-1</text>
</g>
<path d="M1047 932.1 L1047 723.25 Q1047 720.75 1049.5 720.75 L1092.25 720.75 Q1094.75 720.75 1094.75 723.25 L1094.75 932.1Z" fill="#000"/>
<path d="M1112.5 932.1 L1112.5 687.5 Q1112.5 685 1115 685 L1158.5 685 Q1161 685 1161 687.5 L1161 932.1Z" fill="#000"/>
<path d="M1221.9 932.1 L1221.9 761.9 Q1221.9 759.4 1224.4 759.4 L1267.1 759.4 Q1269.6 759.4 1269.6 761.9 L1269.6 932.1Z" fill="#a1a0a5" stroke="#98979c" stroke-width="0.8"/>
<path d="M1287.4 932.1 L1287.4 741.3 Q1287.4 738.8 1289.9 738.8 L1332.8 738.8 Q1335.3 738.8 1335.3 741.3 L1335.3 932.1Z" fill="#a1a0a5" stroke="#98979c" stroke-width="0.8"/>
<path d="M1397.4 932.1 L1397.4 838.15 Q1397.4 835.65 1399.9 835.65 L1441.85 835.65 Q1444.35 835.65 1444.35 838.15 L1444.35 932.1Z" fill="#808080" stroke="#8c8c8f" stroke-width="0.8"/>
<path d="M1463.15 932.1 L1463.15 806.9 Q1463.15 804.4 1465.65 804.4 L1507.85 804.4 Q1510.35 804.4 1510.35 806.9 L1510.35 932.1Z" fill="#808080" stroke="#8c8c8f" stroke-width="0.8"/>
<line x1="1071" y1="692" x2="1071" y2="722" stroke="#000" stroke-width="4.9" stroke-linecap="butt"/>
<line x1="1062" y1="692" x2="1080" y2="692" stroke="#000" stroke-width="4.9" stroke-linecap="round"/>
<line x1="1136.75" y1="653.75" x2="1136.75" y2="686" stroke="#000" stroke-width="4.9" stroke-linecap="butt"/>
<line x1="1127.75" y1="653.75" x2="1145.75" y2="653.75" stroke="#000" stroke-width="4.9" stroke-linecap="round"/>
<line x1="1245.7" y1="743.4" x2="1245.7" y2="761" stroke="#000" stroke-width="4.9" stroke-linecap="butt"/>
<line x1="1236.7" y1="743.4" x2="1254.7" y2="743.4" stroke="#000" stroke-width="4.9" stroke-linecap="round"/>
<line x1="1312" y1="716" x2="1312" y2="740" stroke="#000" stroke-width="4.9" stroke-linecap="butt"/>
<line x1="1303" y1="716" x2="1321" y2="716" stroke="#000" stroke-width="4.9" stroke-linecap="round"/>
<line x1="1421" y1="823" x2="1421" y2="837" stroke="#000" stroke-width="4.9" stroke-linecap="butt"/>
<line x1="1412" y1="823" x2="1430" y2="823" stroke="#000" stroke-width="4.9" stroke-linecap="round"/>
<line x1="1486.5" y1="789.75" x2="1486.5" y2="806" stroke="#000" stroke-width="4.9" stroke-linecap="butt"/>
<line x1="1477.5" y1="789.75" x2="1495.5" y2="789.75" stroke="#000" stroke-width="4.9" stroke-linecap="round"/>
<line x1="1016.2" y1="579.8" x2="1016.2" y2="934" stroke="#000" stroke-width="3.8" stroke-linecap="butt"/>
<line x1="1006" y1="932.1" x2="1543.25" y2="932.1" stroke="#000" stroke-width="3.8" stroke-linecap="butt"/>
<line x1="1006" y1="581.7" x2="1016.2" y2="581.7" stroke="#000" stroke-width="3.8" stroke-linecap="butt"/>
<text x="1002.5" y="589.54" font-family='"Liberation Sans", sans-serif' font-size="26" font-weight="bold" font-style="normal" text-anchor="end" fill="#111" >2.5</text>
<line x1="1006" y1="651.8" x2="1016.2" y2="651.8" stroke="#000" stroke-width="3.8" stroke-linecap="butt"/>
<text x="1002.5" y="659.64" font-family='"Liberation Sans", sans-serif' font-size="26" font-weight="bold" font-style="normal" text-anchor="end" fill="#111" >2.0</text>
<line x1="1006" y1="721.9" x2="1016.2" y2="721.9" stroke="#000" stroke-width="3.8" stroke-linecap="butt"/>
<text x="1002.5" y="729.74" font-family='"Liberation Sans", sans-serif' font-size="26" font-weight="bold" font-style="normal" text-anchor="end" fill="#111" >1.5</text>
<line x1="1006" y1="792" x2="1016.2" y2="792" stroke="#000" stroke-width="3.8" stroke-linecap="butt"/>
<text x="1002.5" y="799.84" font-family='"Liberation Sans", sans-serif' font-size="26" font-weight="bold" font-style="normal" text-anchor="end" fill="#111" >1.0</text>
<line x1="1006" y1="862" x2="1016.2" y2="862" stroke="#000" stroke-width="3.8" stroke-linecap="butt"/>
<text x="1002.5" y="869.84" font-family='"Liberation Sans", sans-serif' font-size="26" font-weight="bold" font-style="normal" text-anchor="end" fill="#111" >0.5</text>
<line x1="1006" y1="932.1" x2="1016.2" y2="932.1" stroke="#000" stroke-width="3.8" stroke-linecap="butt"/>
<text x="1002.5" y="939.94" font-family='"Liberation Sans", sans-serif' font-size="26" font-weight="bold" font-style="normal" text-anchor="end" fill="#111" >0.0</text>
<line x1="1103.8" y1="932.1" x2="1103.8" y2="942.3" stroke="#000" stroke-width="3.8" stroke-linecap="butt"/>
<line x1="1278.4" y1="932.1" x2="1278.4" y2="942.3" stroke="#000" stroke-width="3.8" stroke-linecap="butt"/>
<line x1="1453.9" y1="932.1" x2="1453.9" y2="942.3" stroke="#000" stroke-width="3.8" stroke-linecap="butt"/>
<line x1="1060.3" y1="602.8" x2="1131.4" y2="602.8" stroke="#000" stroke-width="3.6" stroke-linecap="butt"/>
<line x1="1060.3" y1="588.7" x2="1060.3" y2="617.2" stroke="#000" stroke-width="3.6" stroke-linecap="round"/>
<line x1="1131.4" y1="588.7" x2="1131.4" y2="617.2" stroke="#000" stroke-width="3.6" stroke-linecap="round"/>
<g transform="translate(1099.8 597.4) scale(1 1.08)">
<text x="0" y="9.5" font-family='"Liberation Serif", serif' font-size="33" font-weight="normal" font-style="normal" text-anchor="middle" fill="#222" stroke="#222" stroke-width="0.5">**</text>
</g>
<line x1="1236.4" y1="602.8" x2="1307.5" y2="602.8" stroke="#000" stroke-width="3.6" stroke-linecap="butt"/>
<line x1="1236.4" y1="588.7" x2="1236.4" y2="617.2" stroke="#000" stroke-width="3.6" stroke-linecap="round"/>
<line x1="1307.5" y1="588.7" x2="1307.5" y2="617.2" stroke="#000" stroke-width="3.6" stroke-linecap="round"/>
<g transform="translate(1273.6 597.4) scale(1 1.08)">
<text x="0" y="9.5" font-family='"Liberation Serif", serif' font-size="33" font-weight="normal" font-style="normal" text-anchor="middle" fill="#222" stroke="#222" stroke-width="0.5">*</text>
</g>
<line x1="1441.5" y1="606.7" x2="1513" y2="606.7" stroke="#000" stroke-width="3.6" stroke-linecap="butt"/>
<line x1="1441.5" y1="592.8" x2="1441.5" y2="620.8" stroke="#000" stroke-width="3.6" stroke-linecap="round"/>
<line x1="1513" y1="592.8" x2="1513" y2="620.8" stroke="#000" stroke-width="3.6" stroke-linecap="round"/>
<g transform="translate(1480.8 597.2) scale(1 1.08)">
<text x="0" y="9.5" font-family='"Liberation Serif", serif' font-size="33" font-weight="normal" font-style="normal" text-anchor="middle" fill="#222" stroke="#222" stroke-width="0.5">**</text>
</g>
<text x="1055.3" y="971.7" font-family='"Liberation Serif", serif' font-size="26.5" font-weight="bold" font-style="italic" text-anchor="start" fill="#111" >pre</text>
<text x="1115" y="971.7" font-family='"Liberation Serif", serif' font-size="26.5" font-weight="bold" font-style="italic" text-anchor="start" fill="#111" >post</text>
<text x="1221.2" y="971.7" font-family='"Liberation Serif", serif' font-size="26.5" font-weight="bold" font-style="italic" text-anchor="start" fill="#111" >pre</text>
<text x="1281.1" y="971.7" font-family='"Liberation Serif", serif' font-size="26.5" font-weight="bold" font-style="italic" text-anchor="start" fill="#111" >post</text>
<text x="1401.1" y="971.7" font-family='"Liberation Serif", serif' font-size="26.5" font-weight="bold" font-style="italic" text-anchor="start" fill="#111" >pre</text>
<text x="1460.4" y="971.7" font-family='"Liberation Serif", serif' font-size="26.5" font-weight="bold" font-style="italic" text-anchor="start" fill="#111" >post</text>
<rect x="1575.25" y="594.5" width="41.75" height="22" fill="#000" rx="3" ry="3"/>
<g transform="translate(1635.8 615.22) scale(1 1.07)">
<text x="0" y="0" font-family='"Liberation Sans", sans-serif' font-size="28.3" font-weight="normal" font-style="normal" text-anchor="start" fill="#111" >30%1RM</text>
</g>
<rect x="1575.25" y="634.5" width="41.75" height="22.5" fill="#a1a0a5" rx="3" ry="3"/>
<g transform="translate(1635.8 655.47) scale(1 1.07)">
<text x="0" y="0" font-family='"Liberation Sans", sans-serif' font-size="28.3" font-weight="normal" font-style="normal" text-anchor="start" fill="#111" >50%1RM</text>
</g>
<rect x="1575.25" y="675" width="41.75" height="22" fill="#808080" rx="3" ry="3"/>
<g transform="translate(1635.8 695.72) scale(1 1.07)">
<text x="0" y="0" font-family='"Liberation Sans", sans-serif' font-size="28.3" font-weight="normal" font-style="normal" text-anchor="start" fill="#111" >80%1RM</text>
</g>
</g>
</g>
</svg>
</body></html>
